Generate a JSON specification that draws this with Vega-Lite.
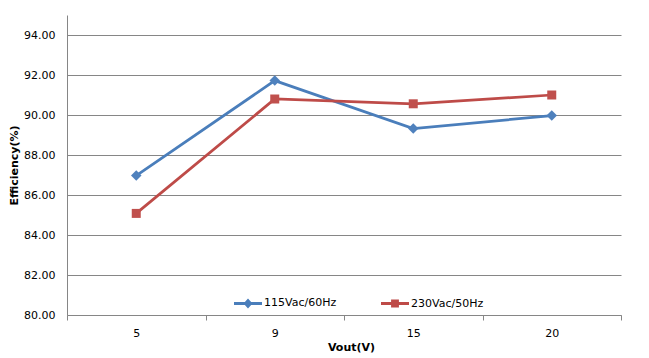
{
  "$schema": "https://vega.github.io/schema/vega-lite/v6.json",
  "autosize": "none",
  "width": 554,
  "height": 300,
  "padding": {"left": 67, "top": 15, "right": 28, "bottom": 43},
  "background": "white",
  "config": {
    "view": {"stroke": null},
    "font": "DejaVu Sans",
    "axis": {"labelFont": "DejaVu Sans", "titleFont": "DejaVu Sans", "labelColor": "#000000", "titleColor": "#000000", "labelFontSize": 11, "titleFontSize": 11, "titleFontWeight": "bold", "domainColor": "#868686", "tickColor": "#868686", "gridColor": "#868686", "gridOpacity": 1}
  },
  "data": {
    "values": [
      {"vout": "5", "series": "115Vac/60Hz", "eff": 86.97},
      {"vout": "9", "series": "115Vac/60Hz", "eff": 91.72},
      {"vout": "15", "series": "115Vac/60Hz", "eff": 89.32},
      {"vout": "20", "series": "115Vac/60Hz", "eff": 89.97},
      {"vout": "5", "series": "230Vac/50Hz", "eff": 85.08},
      {"vout": "9", "series": "230Vac/50Hz", "eff": 90.80},
      {"vout": "15", "series": "230Vac/50Hz", "eff": 90.56},
      {"vout": "20", "series": "230Vac/50Hz", "eff": 91.00}
    ]
  },
  "encoding": {
    "x": {
      "field": "vout", "type": "ordinal", "sort": ["5", "9", "15", "20"],
      "scale": {"paddingInner": 0, "paddingOuter": 0},
      "axis": {"title": "Vout(V)", "labelAngle": 0, "tickBand": "extent", "tickSize": 5, "labelPadding": 7, "titlePadding": 3, "titleX": 284, "grid": false}
    },
    "y": {
      "field": "eff", "type": "quantitative",
      "scale": {"domain": [80, 95], "nice": false, "zero": false},
      "axis": {"title": "Efficiency(%)", "values": [80, 82, 84, 86, 88, 90, 92, 94], "format": ".2f", "tickSize": 0, "labelPadding": 12, "titlePadding": 4, "grid": true}
    }
  },
  "layer": [
    {
      "mark": {"type": "line", "strokeWidth": 2.75},
      "encoding": {
        "color": {
          "field": "series", "type": "nominal",
          "scale": {"domain": ["115Vac/60Hz", "230Vac/50Hz"], "range": ["#4A7EBB", "#BE4B48"]},
          "legend": {
            "title": null, "orient": "none", "legendX": 167, "legendY": 274, "direction": "horizontal",
            "symbolSize": 784, "labelOffset": 2, "columnPadding": 44,
            "labelFont": "DejaVu Sans", "labelFontSize": 11, "labelColor": "#000000",
            "encode": {"symbols": {"update": {
              "shape": {"signal": "datum.value === '115Vac/60Hz' ? 'M-1,-0.1H1V0.1H-1Z M0,-0.36L0.32,0L0,0.36L-0.32,0Z' : 'M-1,-0.1H1V0.1H-1Z M-0.28,-0.28H0.28V0.28H-0.28Z'"},
              "fill": {"signal": "scale('color', datum.value)"},
              "fillOpacity": {"value": 1},
              "strokeWidth": {"value": 0}
            }}}
          }
        }
      }
    },
    {
      "transform": [{"filter": "datum.series === '115Vac/60Hz'"}],
      "mark": {"type": "point", "filled": true, "opacity": 1, "shape": "diamond", "size": 110, "color": "#4F81BD"}
    },
    {
      "transform": [{"filter": "datum.series === '230Vac/50Hz'"}],
      "mark": {"type": "point", "filled": true, "opacity": 1, "shape": "square", "size": 81, "color": "#C0504D"}
    }
  ]
}
